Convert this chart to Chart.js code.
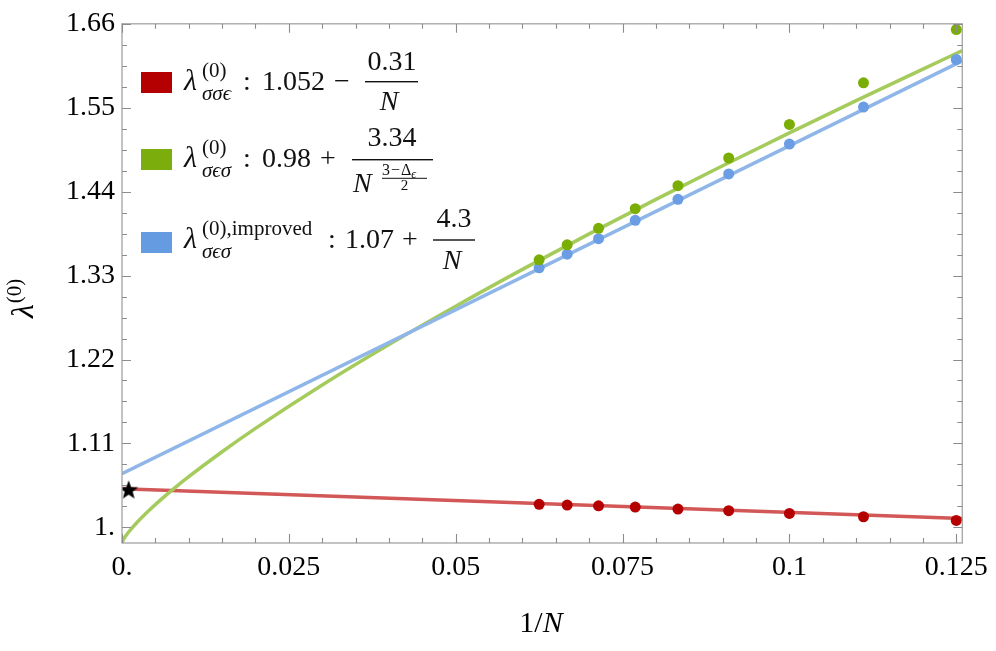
<!DOCTYPE html>
<html>
<head>
<meta charset="utf-8">
<script src="https://cdn.jsdelivr.net/npm/chart.js@4.4.0/dist/chart.umd.min.js"></script>
<style>
  html, body { margin: 0; padding: 0; background: #fff; }
  #wrap { width: 996px; height: 651px; position: relative; }
</style>
</head>
<body>
<div id="wrap"><canvas id="lambdaChart"></canvas></div>
<script>
// values
const invN = [0.125, 0.1111, 0.1, 0.0909, 0.0833, 0.0769, 0.0714, 0.0667, 0.0625];
const ssePoints = [1.0091, 1.0139, 1.0183, 1.0218, 1.0240, 1.0266, 1.0283, 1.0292, 1.0302];
const sesPoints = [1.6525, 1.5827, 1.5281, 1.4841, 1.4478, 1.4177, 1.3919, 1.3703, 1.3507];
const sesImprovedPoints = [1.6132, 1.5509, 1.5024, 1.4632, 1.4299, 1.4024, 1.3784, 1.3580, 1.3402];

// fit curves as traced on the plot
const sseFitX = [0, 0.1259];
const sseFitY = [1.0505, 1.0115];
const improvedFitX = [0, 0.1259];
const improvedFitY = [1.0703, 1.6114];
const sesFitX = [0, 0.0002, 0.0005, 0.001, 0.002, 0.004, 0.006, 0.008, 0.01, 0.015, 0.02, 0.03,
                 0.04, 0.05, 0.06, 0.07, 0.08, 0.09, 0.1, 0.11, 0.12, 0.1259];
const sesFitY = [0.98, 0.9839, 0.9880, 0.9939, 1.0041, 1.0217, 1.0376, 1.0524, 1.0664, 1.0991, 1.1297, 1.1866,
                 1.2396, 1.2898, 1.3381, 1.3847, 1.4299, 1.4739, 1.5170, 1.5593, 1.6007, 1.6248];

const starPoint = [{ x: 0.001, y: 1.0495 }];

const xTicks = [0, 0.025, 0.05, 0.075, 0.1, 0.125];
const xTickLabels = ['0.', '0.025', '0.05', '0.075', '0.1', '0.125'];
const yTicks = [1.0, 1.11, 1.22, 1.33, 1.44, 1.55, 1.66];
const yTickLabels = ['1.', '1.11', '1.22', '1.33', '1.44', '1.55', '1.66'];

const SERIF = '"Liberation Serif", "DejaVu Serif", serif';

function pairs(xs, ys) {
  return xs.map((x, i) => ({ x: x, y: ys[i] }));
}

// filled five-point star used as a point image
function makeStar(r) {
  const c = document.createElement('canvas');
  c.width = c.height = 2 * r + 2;
  const g = c.getContext('2d');
  g.beginPath();
  for (let i = 0; i < 10; i++) {
    const rad = i % 2 === 0 ? r : r * 0.42;
    const a = -Math.PI / 2 + i * Math.PI / 5;
    g.lineTo(r + 1 + rad * Math.cos(a), r + 1.8 + rad * Math.sin(a));
  }
  g.closePath();
  g.fillStyle = '#000';
  g.fill();
  return c;
}

// frame with inward ticks on all four sides
const framePlugin = {
  id: 'frame',
  afterDatasetsDraw(chart) {
    const { ctx, chartArea: a, scales } = chart;
    const x = scales.x, y = scales.y;
    ctx.save();
    ctx.strokeStyle = '#a3a3a3';
    ctx.lineWidth = 1.3;
    ctx.strokeRect(a.left, a.top, a.right - a.left, a.bottom - a.top);
    ctx.strokeStyle = '#8c8c8c';
    ctx.lineWidth = 1.1;
    ctx.beginPath();
    for (let k = 0; k <= 25; k++) {
      const px = Math.round(x.getPixelForValue(k * 0.005)) + 0.5;
      const len = k % 5 === 0 ? 9 : 5;
      ctx.moveTo(px, a.bottom); ctx.lineTo(px, a.bottom - len);
      ctx.moveTo(px, a.top); ctx.lineTo(px, a.top + len);
    }
    for (let k = 0; k <= 24; k++) {
      const py = Math.round(y.getPixelForValue(1 + k * 0.0275)) + 0.5;
      const len = k % 4 === 0 ? 9 : 5;
      ctx.moveTo(a.left, py); ctx.lineTo(a.left + len, py);
      ctx.moveTo(a.right, py); ctx.lineTo(a.right - len, py);
    }
    ctx.stroke();
    ctx.restore();
  }
};

function put(ctx, s, x, y, size, italic, align) {
  ctx.font = (italic ? 'italic ' : '') + size + 'px ' + SERIF;
  ctx.textAlign = align || 'left';
  ctx.fillText(s, x, y);
  return ctx.measureText(s).width;
}

function bar(ctx, x1, x2, y, w) {
  ctx.fillRect(x1, y - w / 2, x2 - x1, w);
}

// legend with formulas, and axis titles
const mathTextPlugin = {
  id: 'mathText',
  afterDraw(chart) {
    const ctx = chart.ctx;
    ctx.save();
    ctx.textBaseline = 'alphabetic';

    // swatches
    ctx.fillStyle = '#b40000'; ctx.fillRect(141, 72, 31, 21);
    ctx.fillStyle = '#7bae0c'; ctx.fillRect(141, 149, 31, 21);
    ctx.fillStyle = '#659be0'; ctx.fillRect(141, 232, 31, 21);

    ctx.fillStyle = '#111';
    // row 1
    let B = 90;
    put(ctx, 'λ', 184, B, 30, true);
    put(ctx, '(0)', 202, B - 13, 21, false);
    put(ctx, 'σσϵ', 202, B + 10, 21, true);
    put(ctx, ':', 243, B, 28, false);
    put(ctx, '1.052', 262, B, 28, false);
    put(ctx, '−', 334, B, 28, false);
    put(ctx, '0.31', 392, B - 20, 28, false, 'center');
    bar(ctx, 365, 418, B - 8.3, 1.4);
    put(ctx, 'N', 389, B + 20, 28, true, 'center');

    // row 2
    B = 166.7;
    put(ctx, 'λ', 184, B, 30, true);
    put(ctx, '(0)', 202, B - 13, 21, false);
    put(ctx, 'σϵσ', 202, B + 10, 21, true);
    put(ctx, ':', 243, B, 28, false);
    put(ctx, '0.98', 262, B, 28, false);
    put(ctx, '+', 320, B, 28, false);
    put(ctx, '3.34', 392, B - 21, 28, false, 'center');
    bar(ctx, 352, 433, B - 7, 1.4);
    put(ctx, 'N', 353, B + 25, 28, true);
    let ex = 382;
    ex += put(ctx, '3', ex, B + 8.5, 16, false);
    ex += 1;
    ex += put(ctx, '−', ex, B + 8.5, 16, false);
    ex += 1;
    ex += put(ctx, 'Δ', ex, B + 8.5, 16, false);
    put(ctx, 'ϵ', ex, B + 11, 12, true);
    bar(ctx, 382, 427, B + 11.6, 1);
    put(ctx, '2', 404.5, B + 23.5, 15, false, 'center');

    // row 3
    B = 248.3;
    put(ctx, 'λ', 184, B, 30, true);
    put(ctx, '(0),improved', 202, B - 13, 21, false);
    put(ctx, 'σϵσ', 202, B + 10, 21, true);
    put(ctx, ':', 328, B, 28, false);
    put(ctx, '1.07', 345, B, 28, false);
    put(ctx, '+', 402, B, 28, false);
    put(ctx, '4.3', 454, B - 21, 28, false, 'center');
    bar(ctx, 433, 475, B - 8.3, 1.4);
    put(ctx, 'N', 452, B + 21, 28, true, 'center');

    // x title: 1/N
    ctx.fillStyle = '#000';
    ctx.font = '30px ' + SERIF;
    const w1 = ctx.measureText('1/').width;
    ctx.font = 'italic 30px ' + SERIF;
    const w2 = ctx.measureText('N').width;
    const x0 = 541 - (w1 + w2) / 2;
    put(ctx, '1/', x0, 632, 30, false);
    put(ctx, 'N', x0 + w1, 632, 30, true);

    // y title: lambda^(0), rotated
    ctx.translate(33, 318);
    ctx.rotate(-Math.PI / 2);
    const wl = put(ctx, 'λ', 0, 0, 32, true);
    put(ctx, '(0)', wl + 1, -12, 21, false);
    ctx.restore();
  }
};

const lineStyle = { pointRadius: 0, borderWidth: 3.5, showLine: true, fill: false };

new Chart(document.getElementById('lambdaChart'), {
  type: 'scatter',
  data: {
    datasets: [
      {
        label: 'star',
        data: starPoint,
        pointStyle: makeStar(10),
        pointRadius: 10
      },
      {
        label: 'sse points',
        data: pairs(invN, ssePoints),
        backgroundColor: '#b40000',
        borderWidth: 0,
        pointRadius: 5.5
      },
      {
        label: 'ses points',
        data: pairs(invN, sesPoints),
        backgroundColor: '#7bae05',
        borderWidth: 0,
        pointRadius: 5.5
      },
      {
        label: 'improved points',
        data: pairs(invN, sesImprovedPoints),
        backgroundColor: '#6a9de3',
        borderWidth: 0,
        pointRadius: 5.5
      },
      Object.assign({
        label: 'improved fit',
        data: pairs(improvedFitX, improvedFitY),
        borderColor: '#8fb6e8'
      }, lineStyle),
      Object.assign({
        label: 'ses fit',
        data: pairs(sesFitX, sesFitY),
        borderColor: '#a5cb5c',
        cubicInterpolationMode: 'monotone'
      }, lineStyle),
      Object.assign({
        label: 'sse fit',
        data: pairs(sseFitX, sseFitY),
        borderColor: '#d25757'
      }, lineStyle)
    ]
  },
  options: {
    responsive: true,
    maintainAspectRatio: false,
    animation: false,
    events: [],
    layout: { padding: { left: 0, right: 32, top: 22, bottom: 0 } },
    plugins: {
      legend: { display: false },
      tooltip: { enabled: false }
    },
    scales: {
      x: {
        type: 'linear',
        min: 0,
        max: 0.1259,
        grid: { display: false, drawTicks: false },
        border: { display: false },
        afterBuildTicks: function(scale) {
          scale.ticks = xTicks.map(v => ({ value: v }));
        },
        afterFit: function(scale) { scale.height = 108; },
        ticks: {
          autoSkip: false,
          maxRotation: 0,
          padding: 8,
          color: '#000',
          font: { family: SERIF, size: 28 },
          callback: function(value, index) { return xTickLabels[index]; }
        }
      },
      y: {
        type: 'linear',
        min: 0.9795,
        max: 1.66,
        grid: { display: false, drawTicks: false },
        border: { display: false },
        afterBuildTicks: function(scale) {
          scale.ticks = yTicks.map(v => ({ value: v }));
        },
        afterFit: function(scale) { scale.width = 122; },
        ticks: {
          autoSkip: false,
          padding: 7,
          color: '#000',
          font: { family: SERIF, size: 28 },
          callback: function(value, index) { return yTickLabels[index]; }
        }
      }
    }
  },
  plugins: [framePlugin, mathTextPlugin]
});
</script>
</body>
</html>
